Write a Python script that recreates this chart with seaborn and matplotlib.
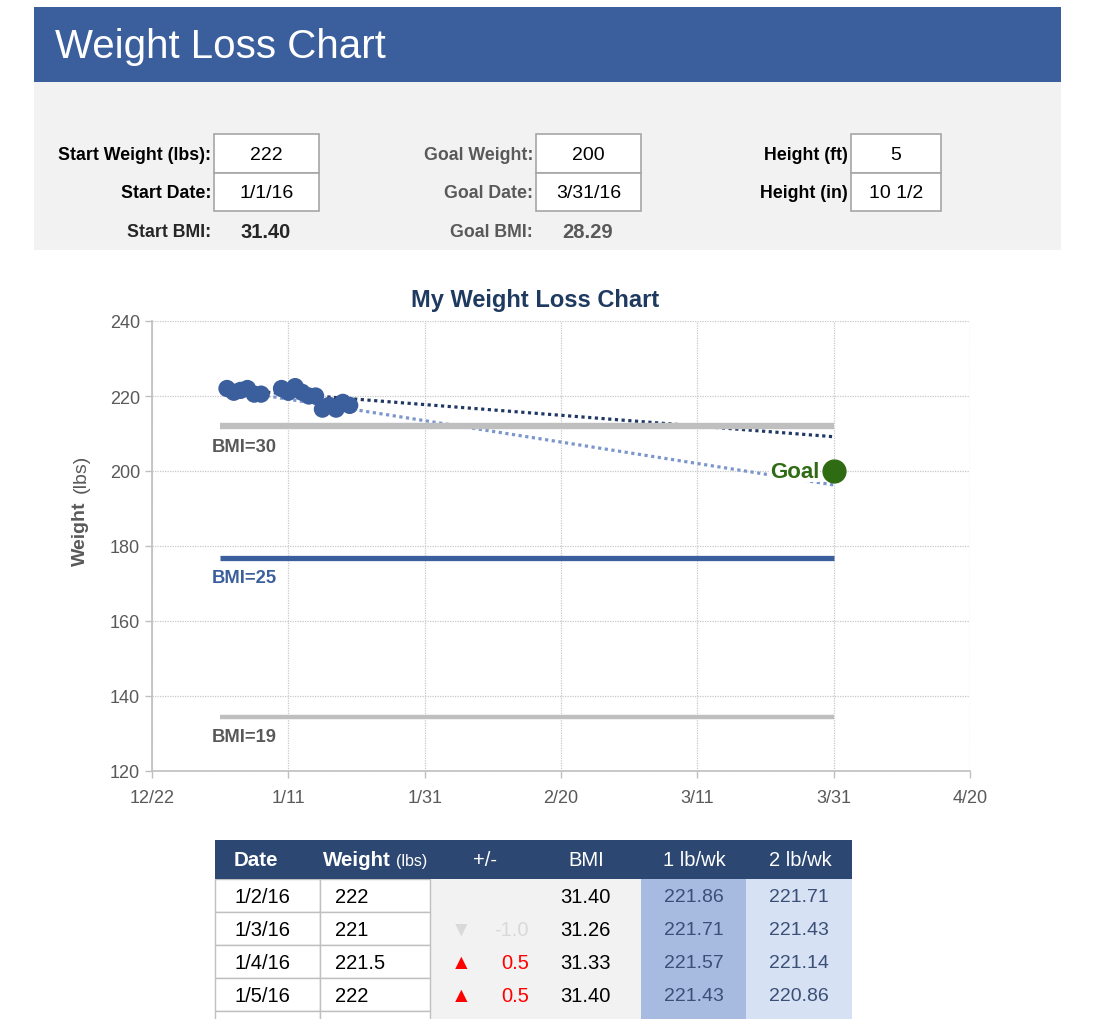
# Weight loss tracker — spreadsheet-style dashboard
# Header with the inputs, the progress chart, and the first rows of the log table.

import pandas as pd
import matplotlib.pyplot as plt
import seaborn as sns
from matplotlib.patches import Rectangle

# --- data ---------------------------------------------------------------------

log_dates = pd.to_datetime([
    "2016-01-02", "2016-01-03", "2016-01-04", "2016-01-05", "2016-01-06",
    "2016-01-07", "2016-01-10", "2016-01-11", "2016-01-12", "2016-01-13",
    "2016-01-14", "2016-01-15", "2016-01-16", "2016-01-17", "2016-01-18",
    "2016-01-19", "2016-01-20",
])
log_weights = [222, 221, 221.5, 222, 220.5, 220.5, 222, 221, 222.5, 221,
               220, 220, 216.5, 217.5, 216.5, 218.3, 217.5]

pace_dates = pd.to_datetime(["2016-01-02", "2016-03-31"])
pace_1lb = [221.86, 209.14]
pace_2lb = [221.71, 196.29]

goal_date = pd.to_datetime("2016-03-31")
goal_weight = 200

bmi_dates = pd.to_datetime(["2016-01-01", "2016-03-31"])
bmi_names = ["BMI=30", "BMI=25", "BMI=19"]
bmi_weights = [212.1, 176.75, 134.3]

x_ticks = pd.date_range("2015-12-22", "2016-04-20", freq="20D")
y_ticks = [120, 140, 160, 180, 200, 220, 240]

inputs_left = [("Start Weight (lbs):", "222"), ("Start Date:", "1/1/16")]
inputs_mid = [("Goal Weight:", "200"), ("Goal Date:", "3/31/16")]
inputs_right = [("Height (ft)", "5"), ("Height (in)", "10 1/2")]
start_bmi = "31.40"
goal_bmi = "28.29"

table_dates = ["1/2/16", "1/3/16", "1/4/16", "1/5/16"]
table_weights = ["222", "221", "221.5", "222"]
table_change = [None, -1.0, 0.5, 0.5]
table_bmi = ["31.40", "31.26", "31.33", "31.40"]
table_pace1 = ["221.86", "221.71", "221.57", "221.43"]
table_pace2 = ["221.71", "221.43", "221.14", "220.86"]

# --- style --------------------------------------------------------------------

sns.set_theme(style="white")
plt.rcParams["font.family"] = ["Liberation Sans", "DejaVu Sans"]

BLUE = "#3b5e9c"
NAVY = "#1f3a60"
GREY_TXT = "#595959"
LINE_GREY = "#bfbfbf"
GREEN = "#2e6b12"

W, H = 1095, 1020
fig = plt.figure(figsize=(W / 100, H / 100), dpi=100)
fig.patch.set_facecolor("white")


def fx(x):
    return x / W


def fy(y):
    return 1 - y / H


def box(x0, y0, x1, y1, fc, ec="none", lw=0):
    fig.add_artist(Rectangle((fx(x0), fy(y1)), (x1 - x0) / W, (y1 - y0) / H,
                             transform=fig.transFigure, facecolor=fc,
                             edgecolor=ec, linewidth=lw))


def label(x, y, s, **kw):
    return fig.text(fx(x), fy(y), s, va="center", **kw)


# --- header + inputs ----------------------------------------------------------

box(34, 8, 1061, 83, BLUE)
label(55, 47, "Weight Loss Chart", color="white", fontsize=29)
box(34, 83, 1061, 251, "#f2f2f2")

groups = [(inputs_left, 211, 214, 319, "black"),
          (inputs_mid, 533, 536, 641, GREY_TXT),
          (inputs_right, 848, 851, 941, "black")]
for items, lab_x, bx0, bx1, lab_col in groups:
    for i, (name, value) in enumerate(items):
        y0 = 135 + i * 38.5
        box(bx0, y0, bx1, y0 + 38.5, "white", ec="#a6a6a6", lw=1.2)
        label(lab_x, y0 + 20, name, ha="right", fontsize=12.8,
              fontweight="bold", color=lab_col)
        label((bx0 + bx1) / 2, y0 + 20, value, ha="center", fontsize=14,
              color="black")

label(211, 233, "Start BMI:", ha="right", fontsize=12.8, fontweight="bold")
label(266, 233, start_bmi, ha="center", fontsize=14.5, fontweight="bold")
label(533, 233, "Goal BMI:", ha="right", fontsize=12.8, fontweight="bold",
      color=GREY_TXT)
label(588, 233, goal_bmi, ha="center", fontsize=14.5, fontweight="bold",
      color=GREY_TXT)

# --- chart --------------------------------------------------------------------

ax = fig.add_axes([fx(152), fy(772), (970 - 152) / W, (772 - 322) / H])

ax.plot(pace_dates, pace_1lb, color="#1f3864", lw=2.3, ls=(0, (1, 1.1)), zorder=2)
ax.plot(pace_dates, pace_2lb, color="#7b96cc", lw=2.3, ls=(0, (1, 1.1)), zorder=2)

bmi_colors = [LINE_GREY, BLUE, LINE_GREY]
bmi_text_colors = [GREY_TXT, BLUE, GREY_TXT]
bmi_widths = [4.6, 3.8, 3.2]
bmi_label_y = [206.4, 171.7, 129.1]
for name, w, c, tc, lw, ly in zip(bmi_names, bmi_weights, bmi_colors,
                                  bmi_text_colors, bmi_widths, bmi_label_y):
    ax.plot(bmi_dates, [w, w], color=c, lw=lw, solid_capstyle="butt", zorder=3)
    ax.text(pd.Timestamp("2016-01-04 12:00"), ly, name, ha="center",
            va="center", fontsize=13.2, fontweight="bold", color=tc)

sns.scatterplot(x=log_dates, y=log_weights, ax=ax, s=155, color=BLUE,
                edgecolor="none", zorder=5)

ax.scatter([goal_date], [goal_weight], s=270, color=GREEN, zorder=6)
ax.text(goal_date - pd.Timedelta(days=2.1), goal_weight, "Goal", ha="right",
        va="center", fontsize=16, fontweight="bold", color=GREEN, zorder=6,
        bbox=dict(facecolor="white", edgecolor="none", pad=0.5))

ax.set_xlim(x_ticks[0], x_ticks[-1])
ax.set_ylim(120, 240)
ax.set_xticks(x_ticks)
ax.set_xticklabels([f"{d.month}/{d.day}" for d in x_ticks])
ax.set_yticks(y_ticks)
ax.grid(True, color="#c8c8c8", ls=(0, (1, 1)), lw=0.9)
ax.set_axisbelow(True)
for side in ["top", "right"]:
    ax.spines[side].set_visible(False)
for side in ["left", "bottom"]:
    ax.spines[side].set_color(LINE_GREY)
    ax.spines[side].set_linewidth(1.2)
ax.tick_params(axis="both", colors=LINE_GREY, labelcolor=GREY_TXT,
               labelsize=13, length=5, width=1, direction="out",
               left=True, bottom=True)
ax.tick_params(axis="x", pad=8)
ax.set_xlabel("")
ax.set_ylabel("")

fig.text(fx(535), fy(300), "My Weight Loss Chart", ha="center", va="center",
         fontsize=17, fontweight="bold", color=NAVY)
fig.text(fx(80), fy(566), "Weight", rotation=90, ha="center", va="bottom",
         fontsize=14, fontweight="bold", color=GREY_TXT)
fig.text(fx(81), fy(566 - 73), "(lbs)", rotation=90, ha="center", va="bottom",
         fontsize=14, color=GREY_TXT)

# --- log table ----------------------------------------------------------------

row_top = 880
row_h = 33

box(430, row_top, 641, H + 5, "#f2f2f2")
box(641, row_top, 746, H + 5, "#a7bbe0")
box(746, row_top, 852, H + 5, "#d6e1f3")
for r in range(5):
    y0 = row_top + r * row_h
    box(215, y0, 320, y0 + row_h, "white", ec=LINE_GREY, lw=1)
    box(320, y0, 430, y0 + row_h, "white", ec=LINE_GREY, lw=1)

box(215, 841, 852, 880, "#2c4771")
label(234, 861, "Date", color="white", fontsize=14.8, fontweight="bold")
label(323, 861, "Weight", color="white", fontsize=14.8, fontweight="bold")
label(396, 862, "(lbs)", color="white", fontsize=11.5)
label(485, 861, "+/-", ha="center", color="white", fontsize=14.5)
label(586, 861, "BMI", ha="center", color="white", fontsize=14.5)
label(694, 861, "1 lb/wk", ha="center", color="white", fontsize=14.5)
label(800, 861, "2 lb/wk", ha="center", color="white", fontsize=14.5)

for r in range(len(table_dates)):
    yc = row_top + r * row_h + row_h / 2 + 1
    label(235, yc, table_dates[r], fontsize=14.5, color="black")
    label(335, yc, table_weights[r], fontsize=14.5, color="black")
    ch = table_change[r]
    if ch is not None:
        col = "#ff0000" if ch > 0 else "#d9d9d9"
        mark = "\u25b2" if ch > 0 else "\u25bc"
        label(461, yc, mark, ha="center", fontsize=15, color=col)
        label(529, yc, f"{ch:.1f}", ha="right", fontsize=14.5, color=col)
    label(611, yc, table_bmi[r], ha="right", fontsize=14.5, color="black")
    label(694, yc, table_pace1[r], ha="center", fontsize=14, color="#3b4f77")
    label(799, yc, table_pace2[r], ha="center", fontsize=14, color="#3b4f77")

plt.savefig("out.png", dpi=100)
